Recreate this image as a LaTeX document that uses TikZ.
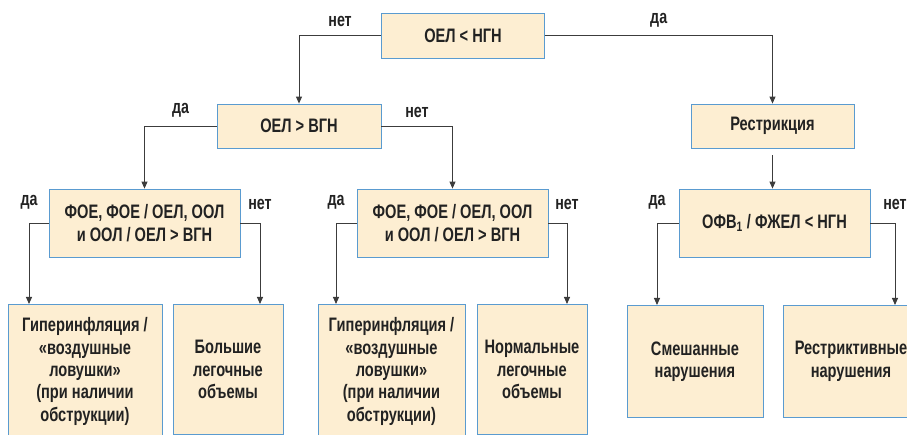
\documentclass[tikz,border=0pt]{standalone}
\usepackage{fontspec}
\setmainfont{Liberation Sans}[FakeStretch=0.75]
\usetikzlibrary{arrows.meta,positioning}
\definecolor{boxfill}{HTML}{FDEED2}
\definecolor{boxline}{HTML}{5A9BD0}
\definecolor{linegray}{HTML}{3C3C3C}
\definecolor{txt}{HTML}{222222}

\begin{document}
\begin{tikzpicture}[x=1pt,y=-1pt,
  box/.style={draw=boxline, line width=0.8pt, fill=boxfill, rectangle, text centered, align=center, text=txt, font=\fontsize{19.5}{22.3}\selectfont\bfseries, inner sep=2pt},
  arr/.style={draw=linegray, line width=0.9pt, -{Triangle[length=7pt,width=6pt]}},
  lbl/.style={text=txt, font=\fontsize{19}{22}\selectfont\bfseries, inner sep=2pt}]

\clip (0,0) rectangle (907,435);

\node (oel) [box, minimum width=163pt, minimum height=45pt] at (463,35.5) {ОЕЛ < НГН};

\node (vgn) [box, below of=oel, node distance=90.5pt, xshift=-164pt, minimum width=164pt, minimum height=44pt] {ОЕЛ > ВГН};
\node (restr) [box, right of=vgn, node distance=473.5pt, minimum width=163pt, minimum height=44pt] {Рестрикция};

\node (foe1) [box, below of=vgn, node distance=97pt, xshift=-154.5pt, minimum width=191pt, minimum height=68pt] {ФОЕ, ФОЕ / ОЕЛ, ООЛ\\и ООЛ / ОЕЛ > ВГН};
\node (foe2) [box, right of=foe1, node distance=308pt, minimum width=191pt, minimum height=68pt] {ФОЕ, ФОЕ / ОЕЛ, ООЛ\\и ООЛ / ОЕЛ > ВГН};
\node (ofv) [box, right of=foe2, node distance=322pt, minimum width=191pt, minimum height=68pt] {ОФВ\textsubscript{1} / ФЖЕЛ < НГН};

% bottom row
\node (hyp1) [box, anchor=north, minimum width=154pt, minimum height=134pt] at (85,304) {Гиперинфляция /\\«воздушные\\ловушки»\\(при наличии\\обструкции)};
\node (big) [box, anchor=north, minimum width=110pt, minimum height=130pt] at (228,304) {Большие\\легочные\\объемы};
\node (hyp2) [box, anchor=north, minimum width=147pt, minimum height=134pt] at (391.5,304) {Гиперинфляция /\\«воздушные\\ловушки»\\(при наличии\\обструкции)};
\node (norm) [box, anchor=north, minimum width=110pt, minimum height=130pt] at (532,304) {Нормальные\\легочные\\объемы};
\node (mixed) [box, anchor=north, minimum width=136pt, minimum height=112pt] at (695,305) {Смешанные\\нарушения};
\node (restrv) [box, anchor=north, minimum width=136pt, minimum height=112pt] at (851,305) {Рестриктивные\\нарушения};

\draw[arr] (oel.west) -| (vgn.north) node[lbl, pos=0.25, above=6pt] {нет};
\draw[arr] (oel.east) -| (restr.north) node[lbl, pos=0.25, above=6pt] {да};
\draw[arr] (vgn.west) -| (foe1.north) node[lbl, pos=0.25, above=6pt] {да};
\draw[arr] (vgn.east) -| (foe2.north) node[lbl, pos=0.25, above=6pt] {нет};
\draw[arr, shorten <=7pt] (restr.south) -- (restr.south |- ofv.north);

\draw[arr] (foe1.west) -| ([xshift=-56pt]hyp1.north) node[lbl, pos=0.5, above=11pt] {да};
\draw[arr] (foe1.east) -| ([xshift=32pt]big.north) node[lbl, pos=0.5, above=11pt] {нет};
\draw[arr] (foe2.west) -| ([xshift=-55.5pt]hyp2.north) node[lbl, pos=0.5, above=11pt] {да};
\draw[arr] (foe2.east) -| ([xshift=35pt]norm.north) node[lbl, pos=0.5, above=11pt] {нет};
\draw[arr] (ofv.west) -| ([xshift=-38pt]mixed.north) node[lbl, pos=0.5, above=11pt] {да};
\draw[arr] (ofv.east) -| ([xshift=44pt]restrv.north) node[lbl, pos=0.5, above=11pt] {нет};

\end{tikzpicture}
\end{document}
